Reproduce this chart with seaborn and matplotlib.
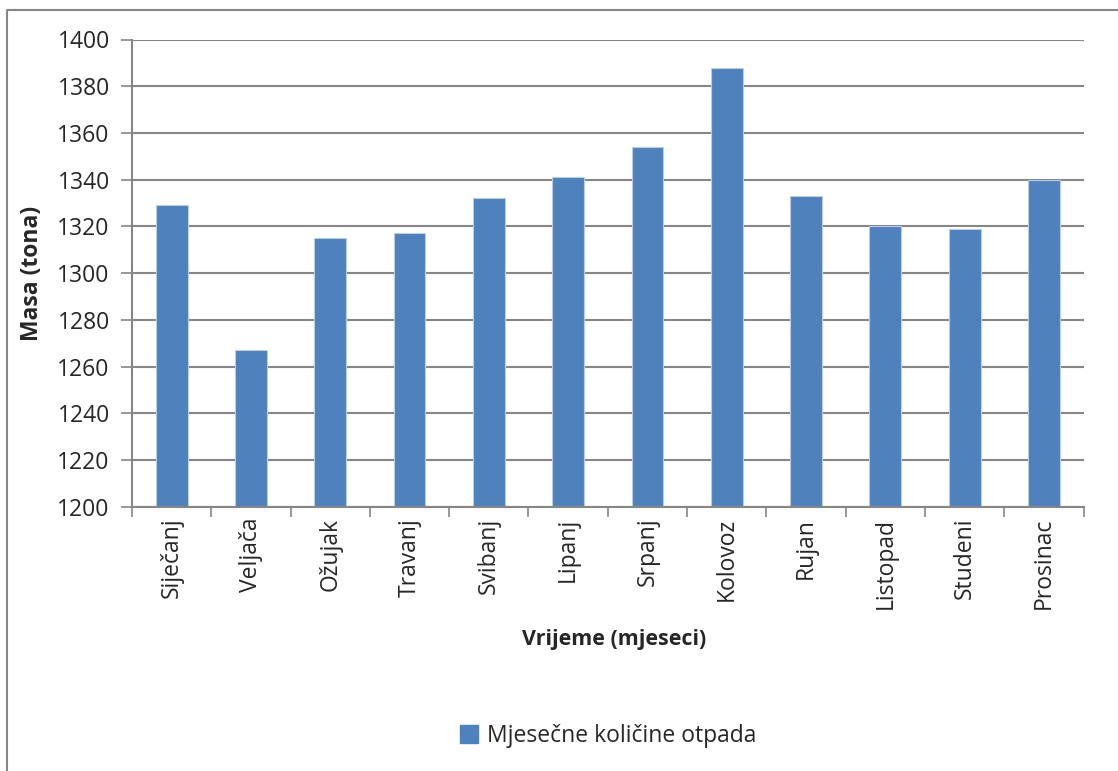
import numpy as np
import pandas as pd
import matplotlib
matplotlib.use('Agg')
import matplotlib.pyplot as plt
import seaborn as sns
from matplotlib.patches import Patch
from matplotlib.lines import Line2D

# Monthly waste quantities
months = ['Siječanj', 'Veljača', 'Ožujak', 'Travanj', 'Svibanj', 'Lipanj',
          'Srpanj', 'Kolovoz', 'Rujan', 'Listopad', 'Studeni', 'Prosinac']
mass = [1329, 1267, 1315, 1317, 1332, 1341, 1354, 1388, 1333, 1320, 1319, 1340]
series_name = 'Mjesečne količine otpada'
y_ticks = list(range(1200, 1401, 20))

df = pd.DataFrame({'Mjesec': months, 'Masa': mass})

sns.set_theme(style='white')
plt.rcParams['font.family'] = ['Open Sans', 'DejaVu Sans']

bar_color = '#4F81BD'
grid_color = '#868686'
W, H = 1118, 771

fig = plt.figure(figsize=(W / 100, H / 100), dpi=100)
ax = fig.add_axes([132 / W, 1 - 506.7 / H, 951.6 / W, 467.2 / H])

sns.barplot(data=df, x='Mjesec', y='Masa', color=bar_color, width=0.4,
            saturation=1, edgecolor='#B9CDE5', linewidth=0.8, ax=ax)

ax.set_ylim(1200, 1400)
ax.set_xlim(-0.5, len(months) - 0.5)
ax.set_yticks(y_ticks)
ax.set_yticklabels([str(t) for t in y_ticks], fontsize=16.5)
ax.yaxis.grid(True, color=grid_color, linewidth=1.5)
ax.set_axisbelow(True)

# category boundary ticks on x axis
ax.set_xticks(np.arange(len(months)))
ax.set_xticklabels(months, rotation=90, fontsize=16.5)
ax.set_xticks(np.arange(-0.5, len(months)), minor=True)
ax.tick_params(axis='x', which='major', length=0, pad=8)
ax.tick_params(axis='x', which='minor', length=7, width=1.2, color=grid_color, direction='out')
ax.tick_params(axis='y', length=8, width=1.2, color=grid_color, direction='out', pad=8)
ax.xaxis.set_tick_params(bottom=True, which='both')
ax.yaxis.set_tick_params(left=True)

for side in ['top', 'right']:
    ax.spines[side].set_visible(False)
for side in ['left', 'bottom']:
    ax.spines[side].set_color(grid_color)
    ax.spines[side].set_linewidth(1.5)

ax.set_xlabel('Vrijeme (mjeseci)', fontsize=15.5, fontweight='bold')
ax.set_ylabel('Masa (tona)', fontsize=16.5, fontweight='bold')
ax.xaxis.set_label_coords((614 - 132) / 951.6, -(640 - 506.7) / 467.2)
ax.yaxis.set_label_coords(-(132 - 32) / 951.6, 0.5)
ax.xaxis.label.set_verticalalignment('center')
ax.yaxis.label.set_verticalalignment('center')

handles = [Patch(facecolor=bar_color, edgecolor=bar_color, label=series_name)]
fig.legend(handles=handles, loc='center', bbox_to_anchor=(608 / W, 1 - 736 / H), frameon=False,
           fontsize=16.5, handlelength=0.8, handleheight=0.8, handletextpad=0.4)

# outer chart border (left and top edges visible)
x0, y0 = 7 / W, 1 - 10 / H
fig.add_artist(Line2D([x0, x0, 1.01], [-0.01, y0, y0], transform=fig.transFigure,
                      color=grid_color, linewidth=1.5))

fig.savefig('out.png', dpi=100)
